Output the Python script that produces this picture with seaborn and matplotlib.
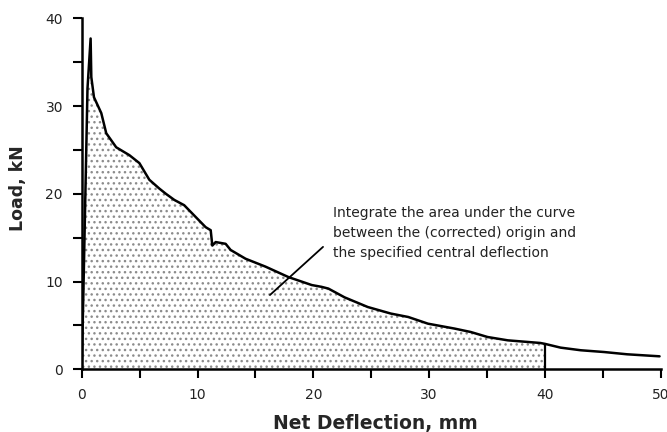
import matplotlib
matplotlib.use("Agg")
import matplotlib.pyplot as plt
import numpy as np
import pandas as pd
import seaborn as sns

# load-deflection curve
deflection = [0.0, 0.15, 0.5, 0.77, 0.83, 1.06, 1.69, 2.12, 2.98, 4.12, 4.98, 5.84,
              6.7, 7.27, 8.0, 8.85, 10.7, 11.14, 11.28, 11.57, 12.43, 12.86, 14.15,
              15.87, 17.87, 19.87, 20.7, 21.3, 22.7, 24.7, 26.7, 28.2, 29.9, 32.2,
              33.6, 35.05, 36.8, 39.6, 40.0, 41.35, 43.1, 45.1, 47.1, 49.9]
load = [0.0, 9.0, 32.0, 37.7, 33.3, 31.0, 29.2, 26.9, 25.3, 24.4, 23.5, 21.6,
        20.6, 20.0, 19.3, 18.7, 16.2, 15.85, 14.1, 14.5, 14.3, 13.6, 12.6,
        11.7, 10.5, 9.6, 9.4, 9.2, 8.2, 7.1, 6.35, 5.96, 5.2, 4.64,
        4.25, 3.68, 3.3, 3.0, 2.9, 2.47, 2.17, 1.97, 1.71, 1.48]
specified_deflection = 40.0

x_ticks = [0, 5, 10, 15, 20, 25, 30, 35, 40, 45, 50]
x_tick_labels = ["0", "", "10", "", "20", "", "30", "", "40", "", "50"]
y_ticks = [0, 5, 10, 15, 20, 25, 30, 35, 40]
y_tick_labels = ["0", "", "10", "", "20", "", "30", "", "40"]

note = ("Integrate the area under the curve\n"
        "between the (corrected) origin and\n"
        "the specified central deflection")
note_pos = (21.68, 18.6)
leader_x = [16.26, 20.84]
leader_y = [8.47, 13.95]

df = pd.DataFrame({"deflection": deflection, "load": load})
area = df[df["deflection"] <= specified_deflection]
load_at_end = area["load"].iloc[-1]

sns.set_style("ticks")
plt.rcParams["font.family"] = ["DejaVu Sans"]
plt.rcParams["hatch.linewidth"] = 1.0

fig = plt.figure(figsize=(6.67, 4.32), dpi=100)
ax = fig.add_axes([81.7 / 667, 1 - 369.3 / 432, 579 / 667, 351 / 432])

ax.fill_between(area["deflection"], 0, area["load"], facecolor="white",
                edgecolor="#8c8c8c", hatch="...", linewidth=0)
sns.lineplot(data=df, x="deflection", y="load", sort=False, estimator=None,
             color="black", linewidth=1.8, ax=ax)
ax.vlines(specified_deflection, 0, load_at_end, color="black", linewidth=1.6)

ax.plot(leader_x, leader_y, color="black", linewidth=1.3)
ax.text(note_pos[0], note_pos[1], note, fontsize=10, color="#222222",
        ha="left", va="top", linespacing=1.55)

ax.set_xlim(0, 50)
ax.set_ylim(0, 40)
ax.set_xticks(x_ticks)
ax.set_xticklabels(x_tick_labels)
ax.set_yticks(y_ticks)
ax.set_yticklabels(y_tick_labels)
ax.tick_params(axis="both", length=6.5, width=1.5, labelsize=10, color="black",
               labelcolor="#222222")
ax.tick_params(axis="x", pad=7)
ax.tick_params(axis="y", pad=7)

sns.despine(ax=ax)
for side in ["left", "bottom"]:
    ax.spines[side].set_linewidth(1.8)
    ax.spines[side].set_color("black")

ax.set_xlabel("Net Deflection, mm", fontsize=13.5, fontweight="bold")
ax.set_ylabel("Load, kN", fontsize=12.5, fontweight="bold")
ax.xaxis.set_label_coords(0.508, -0.127)
ax.yaxis.set_label_coords(-0.094, 0.516)

fig.savefig("out.png", dpi=100)
